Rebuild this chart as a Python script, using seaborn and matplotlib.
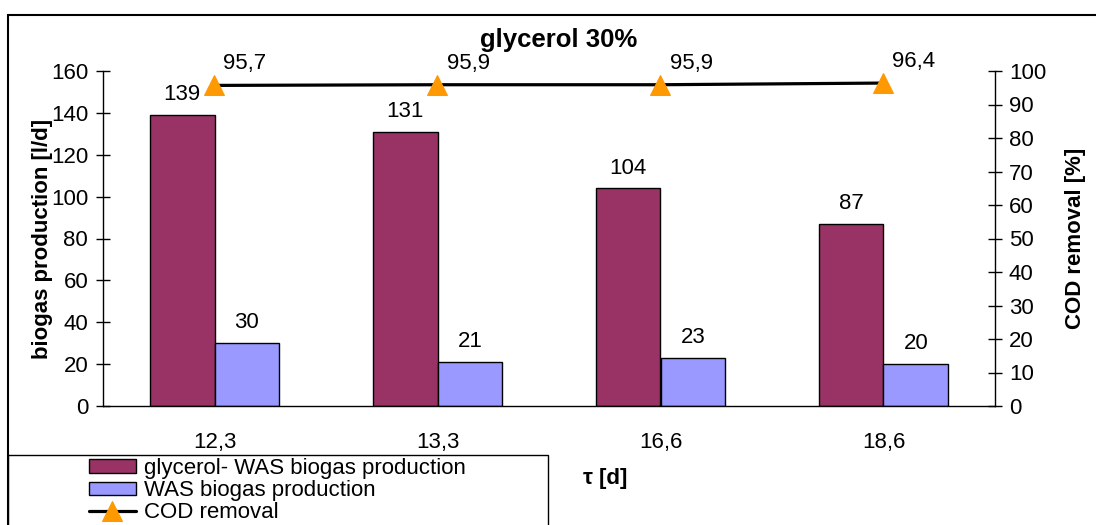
import numpy as np
import pandas as pd
import seaborn as sns
import matplotlib.pyplot as plt
import matplotlib.patches as mpatches

# data
tau_labels = ["12,3", "13,3", "16,6", "18,6"]
glycerol_was = [139, 131, 104, 87]
was_only = [30, 21, 23, 20]
cod_removal = [95.7, 95.9, 95.9, 96.4]
series_names = ["glycerol- WAS biogas production", "WAS biogas production"]
bar_colors = ["#993366", "#9999FF"]

df = pd.DataFrame({
    "tau": tau_labels * 2,
    "biogas": glycerol_was + was_only,
    "series": [series_names[0]] * 4 + [series_names[1]] * 4,
})

sns.set_style("white")
plt.rcParams["font.family"] = ["Liberation Sans", "DejaVu Sans"]
plt.rcParams["text.color"] = "black"
plt.rcParams["axes.labelcolor"] = "black"

FS = 16
W, H = 1096, 525
fig = plt.figure(figsize=(W / 100, H / 100), dpi=100)
ax = fig.add_axes([103 / W, 1 - 406 / H, (995 - 103) / W, (406 - 71) / H])

sns.barplot(data=df, x="tau", y="biogas", hue="series", order=tau_labels,
            hue_order=series_names, palette=bar_colors, width=0.58,
            edgecolor="black", linewidth=1, saturation=1, legend=False, ax=ax)

for cont in ax.containers:
    ax.bar_label(cont, labels=[f"{v:g}" for v in cont.datavalues],
                 padding=7, fontsize=FS, color="black")

ax.set_ylim(0, 160)
ax.set_xlim(-0.5, 3.5)
ax.set_yticks(np.arange(0, 161, 20))
ax.tick_params(axis="y", direction="inout", length=9.4, width=1, pad=6,
               labelsize=FS, colors="black")
# ticks at category borders, labels at centres
ax.set_xticks(np.arange(-0.5, 4, 1))
ax.set_xticklabels([])
ax.set_xticks(np.arange(4), minor=True)
ax.set_xticklabels(tau_labels, minor=True)
ax.tick_params(axis="x", which="major", direction="inout", length=11, width=1)
ax.tick_params(axis="x", which="minor", length=0, pad=19, labelsize=FS, colors="black")

ax.set_ylabel("biogas production [l/d]", fontsize=FS, fontweight="bold", va="center")
ax.yaxis.set_label_coords(-0.068, 0.5)
ax.set_xlabel("τ [d]", fontsize=FS, fontweight="bold", va="center")
ax.xaxis.set_label_coords(0.563, -0.215)

for s in ["top", "right"]:
    ax.spines[s].set_visible(False)
for s in ["left", "bottom"]:
    ax.spines[s].set_color("black")
    ax.spines[s].set_linewidth(1)

ax2 = ax.twinx()
sns.lineplot(x=np.arange(len(tau_labels)), y=cod_removal, ax=ax2, color="black",
             linewidth=2.3, marker="^", markersize=14, markerfacecolor="#FF9900",
             markeredgecolor="#FF9900", label="COD removal", legend=False)
for i, v in enumerate(cod_removal):
    ax2.annotate(f"{v:.1f}".replace(".", ","), (i, v), xytext=(22, 15.5),
                 textcoords="offset points", ha="center", va="center", fontsize=FS)
ax2.set_ylim(0, 100)
ax2.set_yticks(np.arange(0, 101, 10))
ax2.tick_params(axis="y", direction="inout", length=10, width=1, pad=5,
                labelsize=FS, colors="black")
ax2.set_ylabel("COD removal [%]", fontsize=FS, fontweight="bold", va="center")
ax2.yaxis.set_label_coords(1.09, 0.5)
for s in ["top", "left", "bottom"]:
    ax2.spines[s].set_visible(False)
ax2.spines["right"].set_color("black")
ax2.spines["right"].set_linewidth(1)

fig.text(559 / W, 1 - 40 / H, "glycerol 30%", ha="center", va="center",
         fontsize=18.5, fontweight="bold")

# outer chart frame and legend box
fig.patches.append(mpatches.Rectangle((8 / W, -0.1), 1.2, 1 - 15 / H + 0.1,
                                      transform=fig.transFigure, fill=False,
                                      edgecolor="black", linewidth=1.5))
fig.patches.append(mpatches.Rectangle((8 / W, -0.1), 540 / W, 1 - 455 / H + 0.1,
                                      transform=fig.transFigure, fill=False,
                                      edgecolor="black", linewidth=1))

handles = [mpatches.Patch(facecolor=c, edgecolor="black", linewidth=1) for c in bar_colors]
handles.append(ax2.get_lines()[0])
labels = series_names + ["COD removal"]
fig.legend(handles, labels, loc="upper left", bbox_to_anchor=(89 / W, 1 - 458 / H),
           frameon=False, fontsize=FS, labelspacing=0.05, handlelength=2.1,
           handleheight=0.55, handletextpad=0.36, borderpad=0, borderaxespad=0)

fig.savefig("out.png", dpi=100)
